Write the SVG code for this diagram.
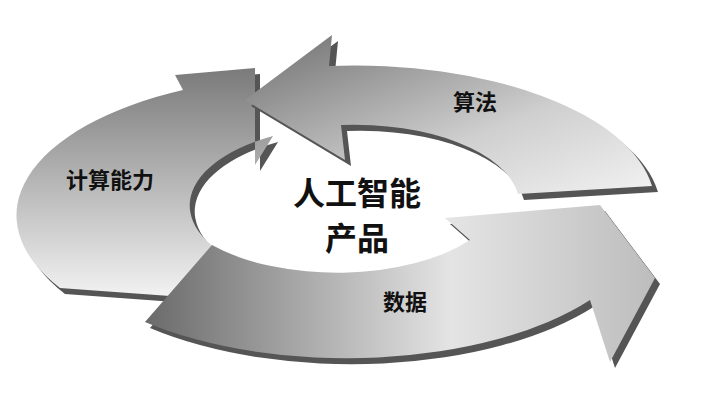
<svg xmlns="http://www.w3.org/2000/svg" width="720" height="400" viewBox="0 0 720 400">
<defs>
<linearGradient id="gA" x1="0" y1="0" x2="1" y2="1"><stop offset="0" stop-color="#6e6e6e"/><stop offset="0.6" stop-color="#cfcfcf"/><stop offset="1" stop-color="#f2f2f2"/></linearGradient>
<linearGradient id="gB" x1="0" y1="0" x2="1" y2="0"><stop offset="0" stop-color="#6a6a6a"/><stop offset="0.6" stop-color="#e4e4e4"/><stop offset="1" stop-color="#bdbdbd"/></linearGradient>
<linearGradient id="gC" x1="0" y1="0" x2="0" y2="1"><stop offset="0" stop-color="#7a7a7a"/><stop offset="1" stop-color="#f4f4f4"/></linearGradient>
<style>
.sh{fill:#555}
.lbl{font-family:"Noto Sans CJK SC",sans-serif;font-weight:bold;fill:#111}
</style>
</defs>
<rect width="720" height="400" fill="#fff"/>
<g id="compute">
<path class="sh" transform="translate(5,6)" d="M225,300 L60,288 A300,140 0 0 1 183,90 L175,75 L255,68 L255,165 L273,136 A165,80 0 0 0 260,271 Z"/>
<path fill="url(#gC)" d="M225,300 L60,288 A300,140 0 0 1 183,90 L175,75 L255,68 L255,165 L273,136 A165,80 0 0 0 260,271 Z"/>
<text class="lbl" x="110" y="188" font-size="22" text-anchor="middle">计算能力</text>
</g>
<g id="data">
<path class="sh" transform="translate(5,6)" d="M212,245 A165,80 0 0 0 470,240 L445,218 L600,205 L655,278 L610,362 L590,300 A300,140 0 0 1 145,322 Z"/>
<path fill="url(#gB)" d="M212,245 A165,80 0 0 0 470,240 L445,218 L600,205 L655,278 L610,362 L590,300 A300,140 0 0 1 145,322 Z"/>
<text class="lbl" x="405" y="310" font-size="22" text-anchor="middle">数据</text>
</g>
<g id="algo">
<path class="sh" transform="translate(6,6)" d="M518,194 L652,186 A300,140 0 0 0 329,66 L332,35 L245,100 L345,160 L341,125 A165,80 0 0 1 518,194 Z"/>
<path fill="url(#gA)" d="M518,194 L652,186 A300,140 0 0 0 329,66 L332,35 L245,100 L345,160 L341,125 A165,80 0 0 1 518,194 Z"/>
<text class="lbl" x="475" y="110" font-size="22" text-anchor="middle">算法</text>
</g>
<g id="center">
<text class="lbl" x="357" y="205" font-size="32" text-anchor="middle">人工智能</text>
<text class="lbl" x="357" y="250" font-size="32" text-anchor="middle">产品</text>
</g>
<g id="connectors"/>
</svg>
